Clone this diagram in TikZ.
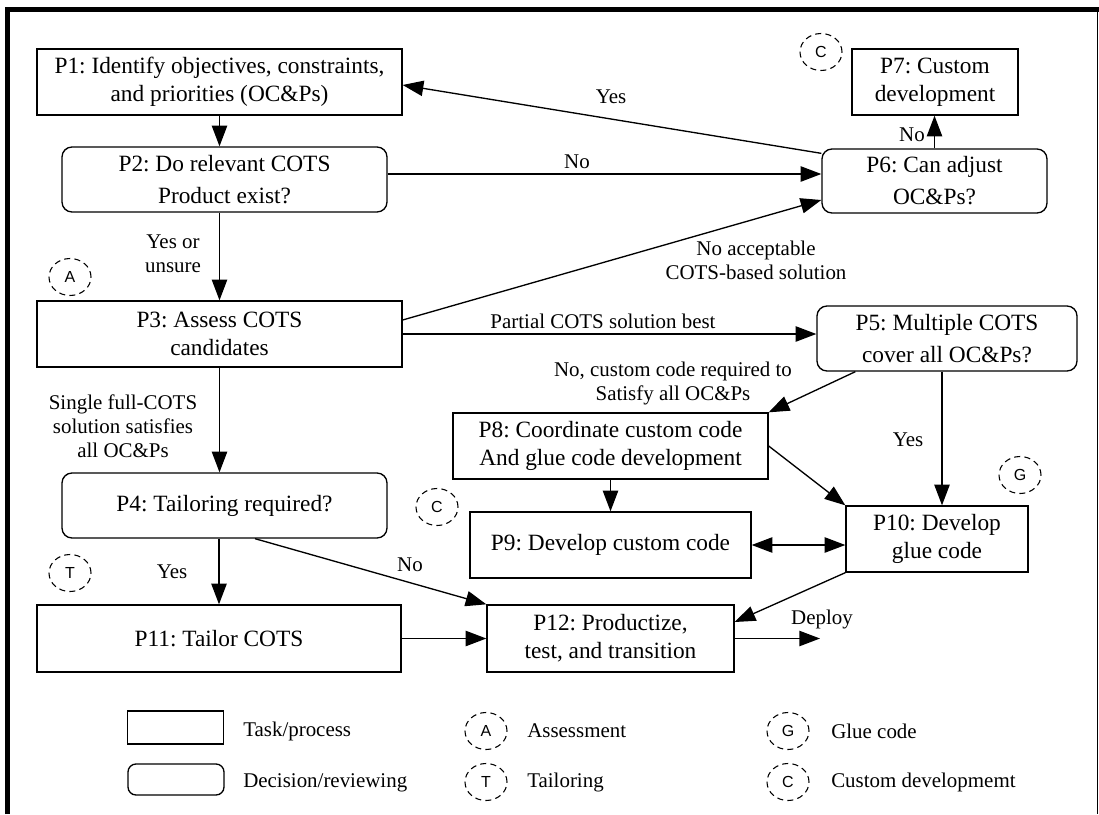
\documentclass[tikz,border=0pt]{standalone}
\usepackage{fontspec}
\setmainfont{Liberation Serif}
\setsansfont{Liberation Sans}
\usetikzlibrary{arrows.meta,shapes.geometric,calc}

\newcommand\boxfont{\fontsize{17.5pt}{21pt}\selectfont}
\newcommand\decfont{\fontsize{17.5pt}{24pt}\selectfont}
\newcommand\lblfont{\fontsize{15.7pt}{18pt}\selectfont}
\newcommand\tagfont{\sffamily\fontsize{12pt}{14pt}\selectfont}

\tikzset{
  proc/.style={draw, line width=1pt, align=center, inner sep=0pt, font=\boxfont},
  dec/.style={proc, rounded corners=7.5pt, font=\decfont},
  sz/.style 2 args={minimum width=#1, minimum height=#2},
  lbl/.style={align=center, inner sep=0pt, font=\lblfont},
  legtext/.style={anchor=west, inner sep=0pt, font=\lblfont},
  tag/.style={draw, ellipse, line width=0.8pt, dash pattern=on 4.5pt off 3.2pt,
              minimum width=31.5pt, minimum height=27.75pt, inner sep=0pt, font=\tagfont},
  arr/.style={line width=1pt, -{Triangle[length=15.5pt,width=11.5pt]}},
  arrboth/.style={line width=1pt, {Triangle[length=15.5pt,width=11.5pt]}-{Triangle[length=15.5pt,width=11.5pt]}}
}

\begin{document}
\frenchspacing
\begin{tikzpicture}[x=0.75pt, y=-0.75pt]
\useasboundingbox (0,0) rectangle (1099,814);

% frame
\draw[line width=3.75pt] (7.5,814) -- (7.5,9.5) -- (1099,9.5);
\draw[line width=0.75pt] (1097,9.5) -- (1097,814);

% process and decision nodes
\node[proc, sz={273.75pt}{49.5pt}]  (P1)  at (219.5,82)   {P1: Identify objectives, constraints,\\and priorities (OC\&Ps)};
\node[dec,  sz={243.75pt}{48.75pt}] (P2)  at (224.5,179.5) {P2: Do relevant COTS\\Product exist?};
\node[proc, sz={273.75pt}{49.5pt}]  (P3)  at (219.5,334)  {P3: Assess COTS\\candidates};
\node[dec,  sz={243.75pt}{48.75pt}] (P4)  at (224.5,505.5) {P4: Tailoring required?};
\node[dec,  sz={195pt}{48.75pt}]    (P5)  at (947,338.5)  {P5: Multiple COTS\\cover all OC\&Ps?};
\node[dec,  sz={168.75pt}{48pt}]    (P6)  at (934.5,181)  {P6: Can adjust\\OC\&Ps?};
\node[proc, sz={124.5pt}{49.5pt}]   (P7)  at (935,82)     {P7: Custom\\development};
\node[proc, sz={236.25pt}{49.5pt}]  (P8)  at (610.5,446)  {P8: Coordinate custom code\\And glue code development};
\node[proc, sz={210.75pt}{49.5pt}]  (P9)  at (610.5,545)  {P9: Develop custom code};
\node[proc, sz={136.5pt}{49.5pt}]   (P10) at (937,539)    {P10: Develop\\glue code};
\node[proc, sz={273pt}{50.25pt}]    (P11) at (219,638.5)  {P11: Tailor COTS};
\node[proc, sz={185.25pt}{50.25pt}] (P12) at (610.5,638.5) {P12: Productize,\\test, and transition};

% activity tags
\node[tag] (tA)  at (70,277)   {A};
\node[tag] (tC1) at (821,52)   {C};
\node[tag] (tC2) at (437,507)  {C};
\node[tag] (tG)  at (1020,475) {G};
\node[tag] (tT)  at (70,573)   {T};

% helper points for connectors
\coordinate (c2e)  at ($(P2.east)+(0,-5.5)$);
\coordinate (c6a)  at ($(P6.north west)+(0,5)$);
\coordinate (c1e)  at ($(P1.east)+(0,3)$);
\coordinate (c3a)  at ($(P3.east)+(0,-14)$);
\coordinate (c6b)  at ($(P6.west)+(0,19)$);
\coordinate (c5a)  at ($(P5.south west)+(39,0)$);
\coordinate (c5b)  at ($(P5.south)+(-5,0)$);
\coordinate (c12a) at ($(P12.east)+(0,-16.5)$);
\coordinate (c4a)  at ($(P4.south)+(30.5,0)$);
\coordinate (dep)  at (820,638.5);

% connectors
\draw[arr] (P1.south) -- (P1.south |- P2.north);
\draw[arr] (P2.south -| P1.south) -- (P1.south |- P3.north);
\draw[arr] (P3.south) -- (P3.south |- P4.north);
\draw[arr] (P4.south -| P11.north) -- (P11.north);
\draw[arr] (c2e) -- (c2e -| P6.west);
\draw[arr] (c6a) -- (c1e);
\draw[arr] (P6.north) -- (P6.north |- P7.south);
\draw[arr] (c3a) -- (c6b);
\draw[arr] (P3.east) -- (P3.east -| P5.west);
\draw[arr] (c5a) -- (P8.north east);
\draw[arr] (c5b) -- (c5b |- P10.north);
\draw[arr] (P8.east) -- (P10.north west);
\draw[arr] (P8.south) -- (P9.north);
\draw[arrboth] (P9.east) -- (P9.east -| P10.west);
\draw[arr] (P10.south west) -- (c12a);
\draw[arr] (c4a) -- (P12.north west);
\draw[arr] (P11.east) -- (P12.west);
\draw[arr] (P12.east) -- (dep);

% connector labels
\node[lbl] (l1)  at (173,254)  {Yes or\\unsure};
\node[lbl] (l2)  at (123,426)  {Single full-COTS\\solution satisfies\\all OC\&Ps};
\node[lbl] (l3)  at (577,162)  {No};
\node[lbl] (l4)  at (611,97)   {Yes};
\node[lbl] (l5)  at (912,135)  {No};
\node[lbl] (l6)  at (756,260)  {No acceptable\\COTS-based solution};
\node[lbl] (l7)  at (603,321)  {Partial COTS solution best};
\node[lbl] (l8)  at (673,383)  {No, custom code required to\\Satisfy all OC\&Ps};
\node[lbl] (l9)  at (908,440)  {Yes};
\node[lbl] (l10) at (172,572)  {Yes};
\node[lbl] (l11) at (410,565)  {No};
\node[lbl] (l12) at (822,619)  {Deploy};

% legend
\node[proc, sz={72pt}{24.75pt}] (kTask) at (175.5,727.5) {};
\node[proc, rounded corners=6pt, sz={72pt}{23.25pt}] (kDec) at (176,779.5) {};
\node[legtext] (kTaskT) at (243,731) {Task/process};
\node[legtext] (kDecT)  at (243,783) {Decision/reviewing};
\node[tag] (kA) at (486,731) {A};
\node[tag] (kT) at (486,782) {T};
\node[tag] (kG) at (788,731) {G};
\node[tag] (kC) at (788,782) {C};
\node[legtext] (kAT) at (527,731) {Assessment};
\node[legtext] (kTT) at (527,782) {Tailoring};
\node[legtext] (kGT) at (831,731) {Glue code};
\node[legtext] (kCT) at (831,782) {Custom developmemt};
\end{tikzpicture}
\end{document}
